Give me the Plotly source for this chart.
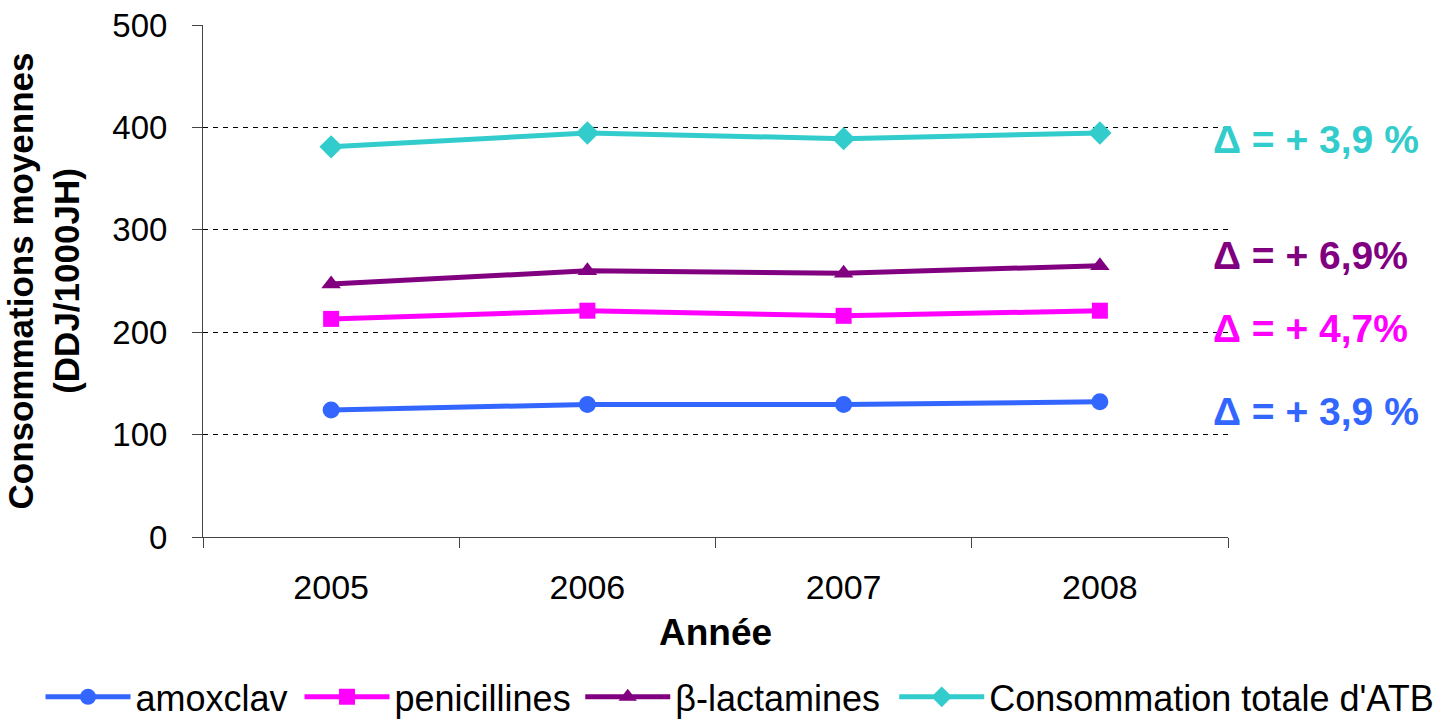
import plotly.graph_objects as go

years = ["2005", "2006", "2007", "2008"]
amoxclav = [124, 129.5, 129.5, 132]
penicillines = [213, 221, 216, 221]
beta_lactamines = [247, 260, 257.5, 265]
total_atb = [381, 394.5, 389, 394.5]

series_names = ["amoxclav", "penicillines", "β-lactamines", "Consommation totale d'ATB"]
series_colors = ["#3366FF", "#FF00FF", "#800080", "#33CCCC"]
series_symbols = ["circle", "square", "triangle-up", "diamond"]
marker_sizes = [17, 16, 17, 18]

delta_labels = ["Δ = + 3,9 %", "Δ = + 4,7%", "Δ = + 6,9%", "Δ = + 3,9 %"]
delta_y = [123, 204, 275, 388]

# one legend per series so the row can span the full page width
legend_ids = ["legend", "legend2", "legend3", "legend4"]
legend_x = [0.028, 0.207, 0.401, 0.618]

font_family = "Liberation Sans, Arial, sans-serif"

fig = go.Figure()
for name, vals, color, sym, msize, lid in zip(
        series_names, [amoxclav, penicillines, beta_lactamines, total_atb],
        series_colors, series_symbols, marker_sizes, legend_ids):
    fig.add_trace(go.Scatter(
        x=years, y=vals, name=name, mode="lines+markers", legend=lid,
        line=dict(color=color, width=5),
        marker=dict(symbol=sym, size=msize, color=color),
    ))

for text, y, color in zip(delta_labels, delta_y, series_colors):
    fig.add_annotation(
        x=0.983, xref="paper", xanchor="left",
        y=y, yref="y", yanchor="middle",
        text=f"<b>{text}</b>", showarrow=False,
        font=dict(size=39, color=color, family=font_family),
    )

legend_style = dict(
    orientation="h", xref="container", yref="container",
    xanchor="left", y=0.032, yanchor="middle",
    font=dict(size=36), itemwidth=85, bgcolor="rgba(0,0,0,0)",
)
legend_layout = {lid: dict(legend_style, x=lx) for lid, lx in zip(legend_ids, legend_x)}

fig.update_layout(
    width=1447, height=720,
    margin=dict(l=203, r=219, t=25, b=183, autoexpand=False),
    paper_bgcolor="white", plot_bgcolor="white",
    font=dict(family=font_family, color="black"),
    showlegend=True,
    **legend_layout,
    xaxis=dict(
        type="category", range=[-0.5, 3.5],
        showline=True, linecolor="#444", linewidth=1,
        ticks="outside", tickson="boundaries", ticklen=10, tickcolor="#444",
        tickfont=dict(size=34), ticklabelstandoff=20,
        showgrid=False, zeroline=False,
        title=dict(text="<b>Année</b>", font=dict(size=37), standoff=14),
    ),
    yaxis=dict(
        range=[0, 500], dtick=100,
        showline=True, linecolor="#444", linewidth=1,
        ticks="outside", ticklen=10, tickcolor="#444",
        tickfont=dict(size=33), ticklabelstandoff=18,
        showgrid=True, gridcolor="black", griddash="5px,5px", gridwidth=1,
        zeroline=False,
        title=dict(text="<b>Consommations moyennes<br>(DDJ/1000JH)</b>",
                   font=dict(size=35), standoff=22),
    ),
)

fig.write_html("out.html")
